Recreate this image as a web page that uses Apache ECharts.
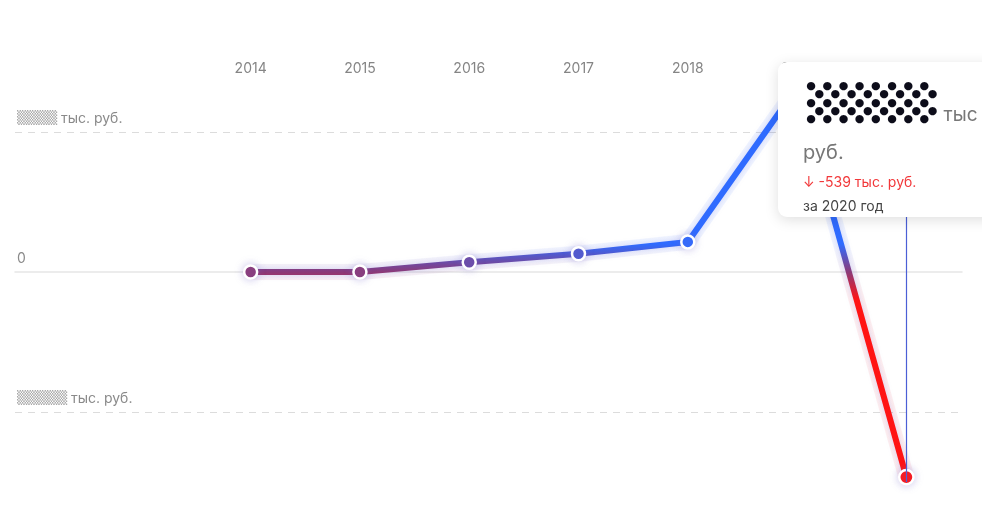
<!DOCTYPE html>
<html>
<head>
<meta charset="utf-8">
<script src="https://cdn.jsdelivr.net/npm/echarts@6/dist/echarts.min.js"></script>
<style>
    html, body {
        margin: 0;
        padding: 0;
        overflow: hidden;
        background: #fff;
    }
    #chart {
        width: 982px;
        height: 513px;
        overflow: hidden;
    }
</style>
</head>
<body>
<div id="chart"></div>
<script>
// данные
let years = ['2014', '2015', '2016', '2017', '2018', '2019', '2020']
let values = [0, 0, 14, 26, 43, 264, -293]
let tickValues = [-200, 0, 200]
let tickLabels = ['▒▒▒▒▒', '0', '▒▒▒▒']
let tipYear = '2020'
let tipDelta = '-539'

let chartDom = document.getElementById('chart')
let myChart = echarts.init(chartDom)

// скрытое значение в подсказке (точки)
const maskText = () => {
    let rows = ''
    for (let r = 0; r < 5; r++) {
        let dots = ''
        for (let c = 0; c < 8; c++) {
            dots += '<span style="display:inline-block;width:16.2px;text-align:center;">●</span>'
        }
        rows += `<div style="height:8.3px;line-height:8.3px;padding-left:${r % 2 ? 8.1 : 0}px;">${dots}</div>`
    }
    return `<div style="font-family:'DejaVu Sans';font-size:11px;color:#0d0d1a;white-space:nowrap;">${rows}</div>`
}

// grid
let grid = [
    { left: 15, right: 20, top: 62, bottom: 31 },
    { left: 196, right: 21, top: 62, bottom: 31 }
]

// xAxis
let xAxis = [
    {
        gridIndex: 0,
        type: 'value',
        min: 0,
        max: 1,
        axisLine: {
            show: true,
            onZero: true,
            lineStyle: { color: '#e6e6e6', width: 1.5 }
        },
        axisTick: { show: false },
        axisLabel: { show: false },
        splitLine: { show: false },
        axisPointer: { show: false }
    },
    {
        gridIndex: 1,
        type: 'category',
        position: 'top',
        offset: -22,
        boundaryGap: true,
        data: years,
        axisLine: { show: false },
        axisTick: { show: false },
        axisLabel: {
            margin: 8,
            color: '#858585',
            fontSize: 14,
            fontFamily: 'Inter'
        }
    }
]

// yAxis
let yAxis = [
    {
        gridIndex: 0,
        type: 'value',
        min: -300,
        max: 300,
        interval: 100,
        axisLine: { show: false },
        axisTick: { show: false },
        axisPointer: { show: false },
        axisLabel: {
            inside: true,
            margin: 2,
            verticalAlign: 'bottom',
            padding: [0, 0, 6, 0],
            formatter: v => {
                let i = tickValues.indexOf(v)
                if (i < 0) return ''
                if (v === 0) return '{z|0}'
                return '{h|' + tickLabels[i] + '}{t| тыс. руб.}'
            },
            rich: {
                z: { color: '#8a8a8a', fontSize: 14, fontFamily: 'Inter' },
                h: { color: '#a8a8a8', fontSize: 13, fontFamily: 'DejaVu Sans' },
                t: { color: '#8a8a8a', fontSize: 14, fontFamily: 'Inter' }
            }
        },
        splitLine: {
            show: true,
            lineStyle: {
                type: [7, 6],
                width: 1.2,
                // -300 -200 -100 0 100 200 300
                color: ['transparent', '#dcdcdc', 'transparent', 'transparent', 'transparent', '#dcdcdc', 'transparent']
            }
        }
    },
    {
        gridIndex: 1,
        type: 'value',
        min: -300,
        max: 300,
        interval: 100,
        show: false,
        splitLine: { show: false }
    }
]

let visualMap = {
    type: 'continuous',
    show: false,
    dimension: 1,
    seriesIndex: [0, 1],
    min: -40,
    max: 40,
    inRange: {
        color: ['#ff1414', '#8c3a78', '#2f6bff']
    }
}

// tooltip
let tooltip = {
    trigger: 'axis',
    triggerOn: 'none',
    alwaysShowContent: true,
    transitionDuration: 0,
    position: [778, 62],
    padding: 0,
    borderWidth: 0,
    backgroundColor: '#fff',
    extraCssText: 'width:236px;white-space:normal;border-radius:9px;box-shadow:0 3px 14px rgba(0,0,0,0.13);',
    axisPointer: {
        type: 'line',
        lineStyle: { color: '#4b5fd6', width: 1.2, type: 'solid' }
    },
    formatter: () => {
        return `
        <div style="padding:20px 0 0 25px;font-family:Inter,sans-serif;">
            <div style="display:flex;align-items:flex-end;height:41.5px;white-space:nowrap;">
                ${maskText()}
                <span style="font-size:19px;line-height:19px;color:#777;margin-left:3px;">тыс</span>
            </div>
            <div style="margin-top:13px;font-size:20px;line-height:30px;color:#777;">руб.</div>
            <div style="margin-top:4px;font-size:14px;line-height:22px;color:#f2383a;">↓ ${tipDelta} тыс. руб.</div>
            <div style="margin-top:2px;font-size:14px;line-height:22px;color:#444;">за ${tipYear} год</div>
        </div>`
    }
}

// series
let series = [
    {
        name: 'main',
        type: 'line',
        xAxisIndex: 1,
        yAxisIndex: 1,
        data: values,
        z: 3,
        symbol: 'circle',
        symbolSize: 13,
        itemStyle: {
            borderColor: '#fff',
            borderWidth: 2.5,
            shadowBlur: 8,
            shadowColor: 'rgba(120,110,200,0.35)'
        },
        lineStyle: {
            width: 6,
            shadowBlur: 6,
            shadowColor: 'rgba(90,100,230,0.25)'
        },
        emphasis: { disabled: true }
    },
    {
        // 光晕
        name: 'glow',
        type: 'line',
        xAxisIndex: 1,
        yAxisIndex: 1,
        data: values,
        z: 2,
        silent: true,
        symbol: 'none',
        lineStyle: {
            width: 16,
            opacity: 0.07
        },
        emphasis: { disabled: true }
    }
]

let option = {
    animation: false,
    grid,
    xAxis,
    yAxis,
    visualMap,
    tooltip,
    series
}

option && myChart.setOption(option)

myChart.dispatchAction({
    type: 'showTip',
    seriesIndex: 0,
    dataIndex: years.indexOf(tipYear)
})
</script>
</body>
</html>
